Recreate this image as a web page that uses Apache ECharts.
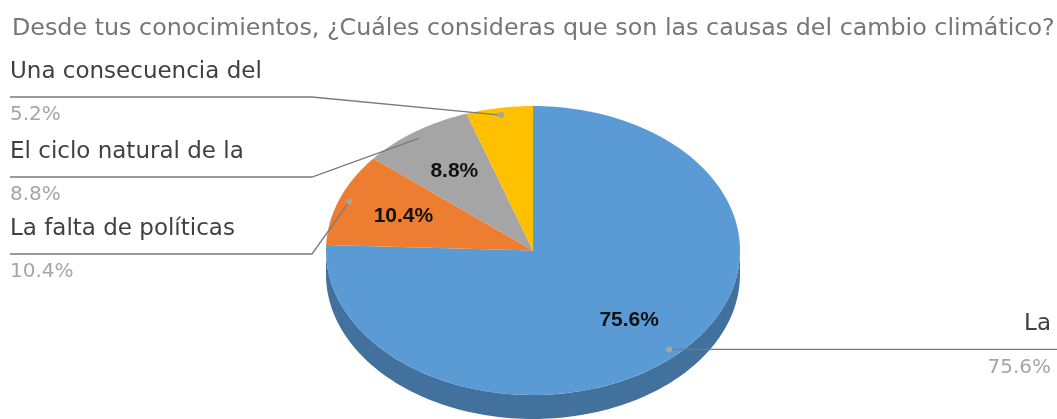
<!DOCTYPE html>
<html>
<head>
<meta charset="utf-8">
<script src="https://cdn.jsdelivr.net/npm/echarts@6/dist/echarts.min.js"></script>
<style>
  html, body { margin: 0; padding: 0; background: #fff; }
  #chart { width: 1057px; height: 419px; }
</style>
</head>
<body>
<div id="chart"></div>
<script>
// datos de la encuesta
const titleText = 'Desde tus conocimientos, ¿Cuáles consideras que son las causas del cambio climático?';
const categories = ['La', 'La falta de políticas', 'El ciclo natural de la', 'Una consecuencia del'];
const values = [75.6, 10.4, 8.8, 5.2];

// estilo
const colors = ['#5B9BD5', '#ED7D31', '#A5A5A5', '#FFC000'];
const sideColors = ['#41719C', '#AE5A21', '#7C7C7C', '#BF9000'];
const depth = 24; // grosor del "3D" en px
const leftLineY = [0, 254, 177, 97]; // altura de la guía para las etiquetas de la izquierda
const nameFont = '23px "DejaVu Sans"';
const pctFont = '20px "DejaVu Sans"';
const innerFont = 'bold 21px "Liberation Sans"';

const total = values.reduce((a, b) => a + b, 0);
const cum = [0];
values.forEach(v => cum.push(cum[cum.length - 1] + v));

function renderSlice(params, api) {
  const i = params.dataIndex;
  const a0 = cum[i] / total * Math.PI * 2;
  const a1 = cum[i + 1] / total * Math.PI * 2;
  const P = (t, r) => api.coord([r * Math.sin(t), r * Math.cos(t)]);
  const arc = (s, e, r) => {
    const n = Math.max(2, Math.ceil((e - s) / (Math.PI / 120)));
    const pts = [];
    for (let k = 0; k <= n; k++) pts.push(P(s + (e - s) * k / n, r));
    return pts;
  };
  const children = [];

  // lateral visible (mitad delantera)
  const s = Math.max(a0, Math.PI / 2), e = Math.min(a1, Math.PI * 1.5);
  if (s < e) {
    const up = arc(s, e, 1);
    const down = up.map(p => [p[0], p[1] + depth]).reverse();
    children.push({
      type: 'polygon', z2: 1,
      shape: { points: up.concat(down) },
      style: { fill: sideColors[i] }
    });
  }

  // cara superior
  children.push({
    type: 'polygon', z2: 2,
    shape: { points: [P(0, 0)].concat(arc(a0, a1, 1)) },
    style: { fill: colors[i] }
  });

  const mid = (a0 + a1) / 2;
  const pctText = values[i].toFixed(1) + '%';

  // etiqueta interior
  if (values[i] > 6) {
    const c = P(mid, 0.67);
    children.push({
      type: 'text', z2: 5,
      style: { text: pctText, x: c[0], y: c[1], font: innerFont, fill: '#111', align: 'center', verticalAlign: 'middle' }
    });
  }

  // guía y etiqueta exterior
  const dot = P(mid, 0.95);
  const W = api.getWidth();
  let line, nameStyle, pctStyle;
  if (Math.sin(mid) >= 0) {
    const ly = dot[1];
    line = [dot, [W, ly]];
    nameStyle = { x: W - 6, y: ly - 25, align: 'right' };
    pctStyle = { x: W - 6, y: ly + 18, align: 'right' };
  } else {
    const ly = leftLineY[i];
    line = [dot, [312, ly], [10, ly]];
    nameStyle = { x: 10, y: ly - 25, align: 'left' };
    pctStyle = { x: 10, y: ly + 18, align: 'left' };
  }
  children.push({
    type: 'polyline', z2: 8,
    shape: { points: line },
    style: { stroke: '#7A7A7A', lineWidth: 1.3, fill: null }
  });
  children.push({
    type: 'circle', z2: 9,
    shape: { cx: dot[0], cy: dot[1], r: 3 },
    style: { fill: '#A5A5A5' }
  });
  children.push({
    type: 'text', z2: 9,
    style: Object.assign({ text: categories[i], font: nameFont, fill: '#404040', verticalAlign: 'middle' }, nameStyle)
  });
  children.push({
    type: 'text', z2: 9,
    style: Object.assign({ text: pctText, font: pctFont, fill: '#A6A6A6', verticalAlign: 'middle' }, pctStyle)
  });

  return { type: 'group', children: children };
}

const chart = echarts.init(document.getElementById('chart'));
chart.setOption({
  animation: false,
  title: {
    text: titleText,
    left: 7,
    top: 12,
    textStyle: { fontFamily: 'DejaVu Sans', fontSize: 23.8, fontWeight: 'normal', color: '#767676' }
  },
  grid: { left: 326, right: 317, top: 106, bottom: 24 },
  xAxis: { type: 'value', min: -1, max: 1, show: false },
  yAxis: { type: 'value', min: -1, max: 1, show: false },
  series: [{
    type: 'custom',
    renderItem: renderSlice,
    clip: false,
    data: values.map((v, i) => [i, v])
  }]
});
</script>
</body>
</html>
